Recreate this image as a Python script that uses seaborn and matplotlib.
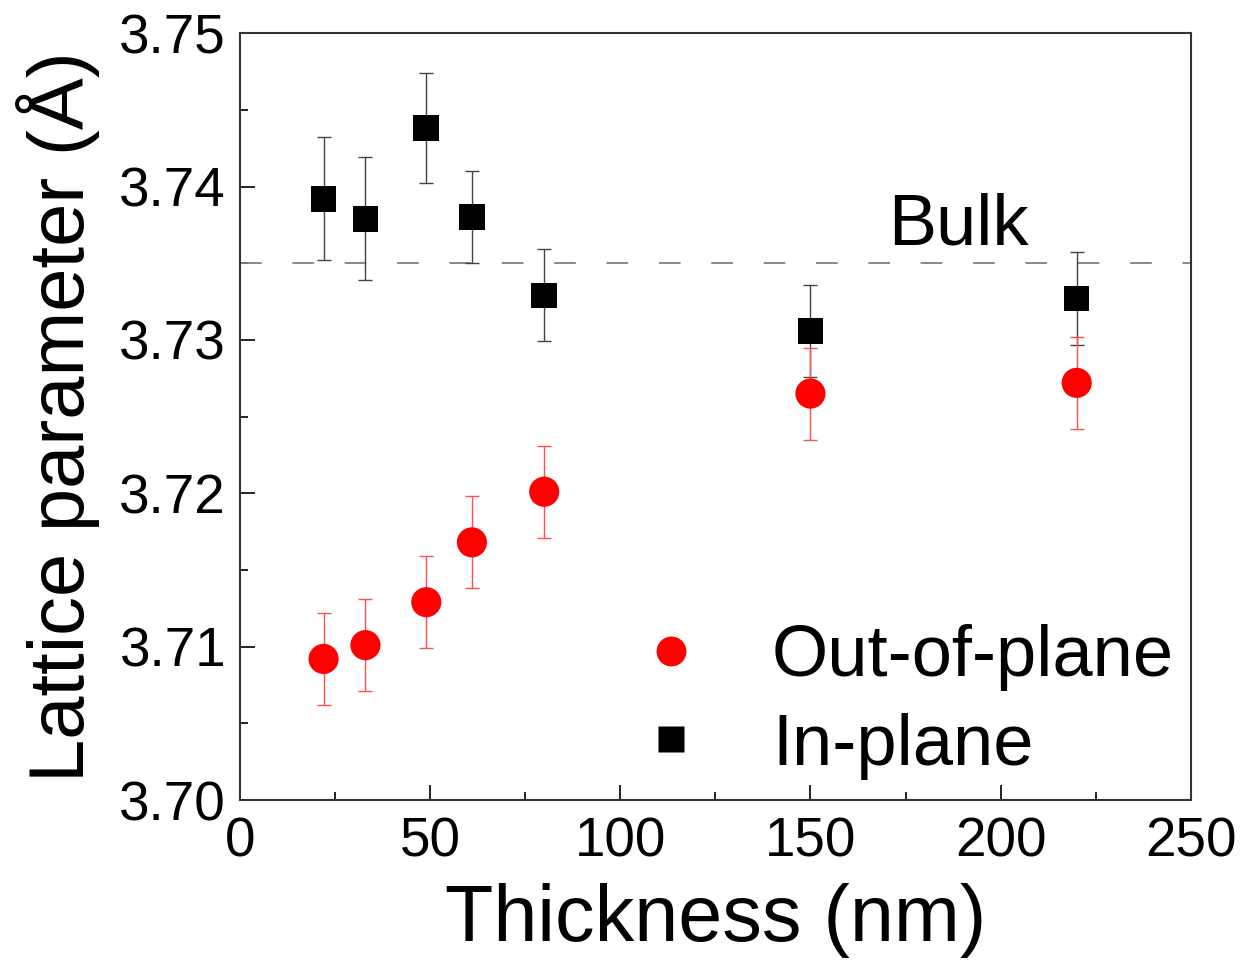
import matplotlib
matplotlib.use("Agg")
import matplotlib.pyplot as plt
from matplotlib.ticker import MultipleLocator, FormatStrFormatter
from matplotlib.lines import Line2D
import seaborn as sns
import pandas as pd

# thickness (nm)
thickness = [22, 33, 49, 61, 80, 150, 220]
# in-plane lattice parameter (A) and error
in_plane = [3.7392, 3.7379, 3.7438, 3.7380, 3.7329, 3.7306, 3.7327]
in_err = [0.0040, 0.0040, 0.0036, 0.0030, 0.0030, 0.0030, 0.0030]
# out-of-plane lattice parameter (A) and error
out_plane = [3.7092, 3.7101, 3.7129, 3.7168, 3.7201, 3.7265, 3.7272]
out_err = [0.0030, 0.0030, 0.0030, 0.0030, 0.0030, 0.0030, 0.0030]
bulk = 3.735

sns.set_style("ticks")
plt.rcParams['font.family'] = ['Liberation Sans', 'DejaVu Sans']
plt.rcParams['text.color'] = 'black'
plt.rcParams['axes.labelcolor'] = 'black'
plt.rcParams['xtick.color'] = 'black'
plt.rcParams['ytick.color'] = 'black'

df_in = pd.DataFrame({'t': thickness, 'a': in_plane})
df_out = pd.DataFrame({'t': thickness, 'a': out_plane})

fig = plt.figure(figsize=(12.43, 9.61), dpi=100)
ax = fig.add_axes([0.193, 0.1675, 0.765, 0.798])

ax.axhline(bulk, color='#808080', ls=(0, (12, 17)), lw=1.3, zorder=1)

ax.errorbar(thickness, in_plane, yerr=in_err, fmt='none', ecolor='#444444',
            elinewidth=1.0, capsize=5, capthick=1.0, zorder=2)
ax.errorbar(thickness, out_plane, yerr=out_err, fmt='none', ecolor='#ff5050',
            elinewidth=1.0, capsize=5, capthick=1.0, zorder=2)

sns.scatterplot(data=df_in, x='t', y='a', marker='s', s=340, color='black',
                edgecolor='none', ax=ax, zorder=3)
sns.scatterplot(data=df_out, x='t', y='a', marker='o', s=470, color='red',
                edgecolor='none', ax=ax, zorder=3)

ax.set_xlim(0, 250)
ax.set_ylim(3.70, 3.75)
ax.xaxis.set_major_locator(MultipleLocator(50))
ax.xaxis.set_minor_locator(MultipleLocator(25))
ax.yaxis.set_major_locator(MultipleLocator(0.01))
ax.yaxis.set_minor_locator(MultipleLocator(0.005))
ax.yaxis.set_major_formatter(FormatStrFormatter('%.2f'))
ax.tick_params(which='major', direction='in', length=11, width=1.2,
               labelsize=39.5, colors='black')
ax.tick_params(axis='y', which='major', pad=10)
ax.tick_params(axis='x', which='major', pad=12)
ax.tick_params(which='minor', direction='in', length=5.5, width=1.2)
for sp in ax.spines.values():
    sp.set_linewidth(1.5)
    sp.set_color('#333333')
    sp.set_visible(True)

ax.set_xlabel('Thickness (nm)', fontsize=57, labelpad=10)
ax.set_ylabel('Lattice parameter (Å)', fontsize=56, labelpad=14)

ax.text(189, 3.7374, 'Bulk', fontsize=52, ha='center', va='center')

handles = [
    Line2D([], [], ls='none', marker='o', markersize=21.5, color='red', mec='none'),
    Line2D([], [], ls='none', marker='s', markersize=19, color='black', mec='none'),
]
ax.legend(handles, ['Out-of-plane', 'In-plane'], loc='center left',
          bbox_to_anchor=(0.40, 0.128), frameon=False, fontsize=52,
          handlelength=1.0, handletextpad=0.9, labelspacing=0.3,
          borderaxespad=0, borderpad=0.2)

fig.savefig('out.png', dpi=100)
